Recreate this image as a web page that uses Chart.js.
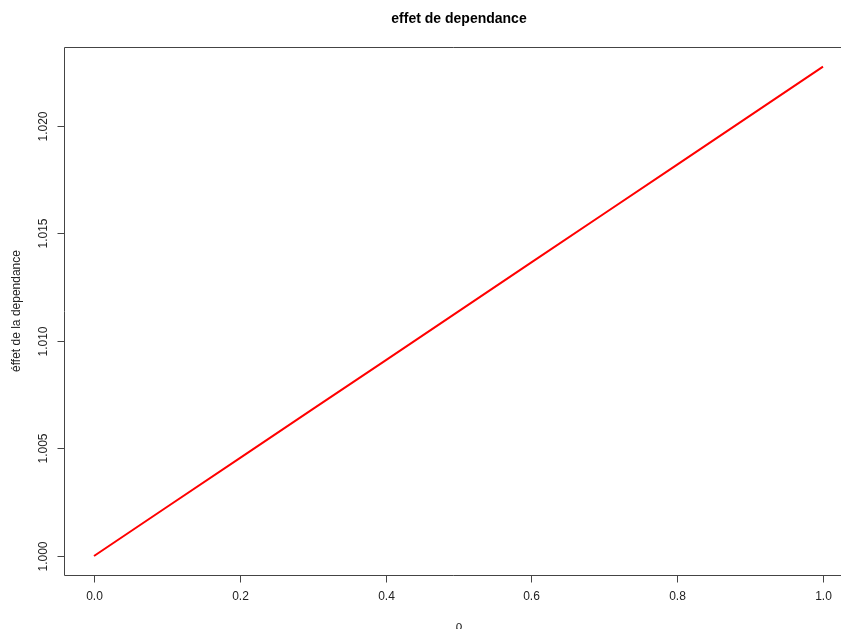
<!DOCTYPE html>
<html>
<head>
<meta charset="utf-8">
<script src="https://cdn.jsdelivr.net/npm/chart.js@4"></script>
<style>
  html, body { margin: 0; padding: 0; background: #fff; }
  #wrap { width: 841px; height: 629px; position: relative; }
</style>
</head>
<body>
<div id="wrap"><canvas id="c" width="841" height="629"></canvas></div>
<script>
const titleText = "effet de dependance";
const xLabel = "ρ";
const yLabel = "éffet de la dependance";
const rhoValues = [0.0, 0.1, 0.2, 0.3, 0.4, 0.5, 0.6, 0.7, 0.8, 0.9, 1.0];
const effectValues = [1.0000, 1.00228, 1.00455, 1.00683, 1.00910, 1.01138, 1.01366, 1.01593, 1.01820, 1.02048, 1.02276];
const xTicks = [0.0, 0.2, 0.4, 0.6, 0.8, 1.0];
const xTickLabels = ["0.0", "0.2", "0.4", "0.6", "0.8", "1.0"];
const yTicks = [1.000, 1.005, 1.010, 1.015, 1.020];
const yTickLabels = ["1.000", "1.005", "1.010", "1.015", "1.020"];

const rAxes = {
  id: 'rAxes',
  afterDraw(chart) {
    const ctx = chart.ctx;
    const a = chart.chartArea;
    const xs = chart.scales.x, ys = chart.scales.y;
    ctx.save();
    ctx.strokeStyle = '#444';
    ctx.lineWidth = 1;
    // box (right side falls off canvas)
    ctx.beginPath();
    ctx.moveTo(a.right + 20, a.top + 0.5);
    ctx.lineTo(a.left + 0.5, a.top + 0.5);
    ctx.lineTo(a.left + 0.5, a.bottom + 0.5);
    ctx.lineTo(a.right + 20, a.bottom + 0.5);
    ctx.stroke();
    // x ticks
    ctx.fillStyle = '#222';
    ctx.font = '12px "Liberation Sans", Arial, sans-serif';
    ctx.textAlign = 'center';
    ctx.textBaseline = 'middle';
    xTicks.forEach((v, i) => {
      const px = Math.round(xs.getPixelForValue(v)) + 0.5;
      ctx.beginPath();
      ctx.moveTo(px, a.bottom + 0.5);
      ctx.lineTo(px, a.bottom + 7.5);
      ctx.stroke();
      ctx.fillText(xTickLabels[i], px, a.bottom + 22);
    });
    // y ticks
    yTicks.forEach((v, i) => {
      const py = Math.round(ys.getPixelForValue(v)) + 0.5;
      ctx.beginPath();
      ctx.moveTo(a.left + 0.5, py);
      ctx.lineTo(a.left - 6.5, py);
      ctx.stroke();
      ctx.save();
      ctx.translate(a.left - 20, py);
      ctx.rotate(-Math.PI / 2);
      ctx.fillText(yTickLabels[i], 0, 0);
      ctx.restore();
    });
    // title
    ctx.fillStyle = '#000';
    ctx.font = 'bold 14px "Liberation Sans", Arial, sans-serif';
    ctx.fillText(titleText, 459, 19.5);
    // axis labels
    ctx.fillStyle = '#222';
    ctx.font = '12px "Liberation Sans", Arial, sans-serif';
    ctx.textBaseline = 'top';
    ctx.fillText(xLabel, 459, 621);
    ctx.save();
    ctx.translate(17, (a.top + a.bottom) / 2);
    ctx.rotate(-Math.PI / 2);
    ctx.textBaseline = 'middle';
    ctx.fillText(yLabel, 0, 0);
    ctx.restore();
    ctx.restore();
  }
};

new Chart(document.getElementById('c'), {
  type: 'line',
  data: {
    datasets: [{
      data: rhoValues.map((x, i) => ({ x: x, y: effectValues[i] })),
      borderColor: '#ff0000',
      borderWidth: 2,
      pointRadius: 0,
      fill: false,
      tension: 0
    }]
  },
  options: {
    responsive: false,
    animation: false,
    devicePixelRatio: 1,
    layout: { padding: { left: 64, top: 47, right: 0, bottom: 54 } },
    plugins: { legend: { display: false }, tooltip: { enabled: false }, title: { display: false } },
    scales: {
      x: { type: 'linear', display: false, min: -0.04115, max: 1.02469 },
      y: { type: 'linear', display: false, min: 0.999116, max: 1.023674 }
    }
  },
  plugins: [rAxes]
});
</script>
</body>
</html>
